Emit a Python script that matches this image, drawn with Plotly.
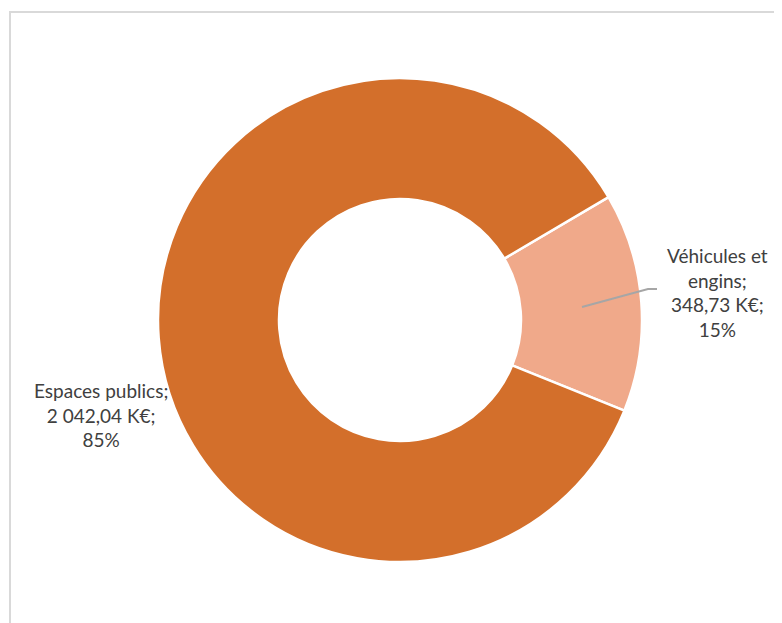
import plotly.graph_objects as go

categories = ["Véhicules et engins", "Espaces publics"]
values = [348.73, 2042.04]
value_labels = ["348,73 K€", "2 042,04 K€"]
pct_labels = ["15%", "85%"]
colors = ["#F0A98A", "#D36F2B"]

OFF = 8  # page body margin
W, H = 782 - OFF, 623 - OFF

def px(x):
    return (x - OFF) / W

def py(y):
    return 1 - (y - OFF) / H

cx, cy, R = 400, 320, 242

fig = go.Figure(go.Pie(
    labels=categories,
    values=values,
    hole=0.5,
    sort=False,
    direction="clockwise",
    rotation=59.5,
    marker=dict(colors=colors, line=dict(color="white", width=2.5)),
    textinfo="none",
    hoverinfo="label+value+percent",
    showlegend=False,
    domain=dict(x=[px(cx - R), px(cx + R)], y=[py(cy + R), py(cy - R)]),
))

font = dict(family="Lato, Carlito, sans-serif", size=19, color="#404040")

labels_text = [
    "Véhicules et<br>engins;<br>" + value_labels[0] + ";<br>" + pct_labels[0],
    "Espaces publics;<br>" + value_labels[1] + ";<br>" + pct_labels[1],
]
label_pos = [(717, 292), (101, 415)]

for txt, (lx, ly) in zip(labels_text, label_pos):
    fig.add_annotation(
        x=px(lx), y=py(ly), xref="paper", yref="paper",
        text=txt, showarrow=False, align="center",
        xanchor="center", yanchor="middle", font=font,
    )

# leader line for the small slice
fig.add_shape(
    type="path",
    path=f"M {px(582)} {py(307)} L {px(648)} {py(289)} L {px(657)} {py(289)}",
    xref="paper", yref="paper",
    line=dict(color="#A6A6A6", width=2),
)

# chart area border
fig.add_shape(
    type="rect", xref="paper", yref="paper",
    x0=px(10), y0=-0.02, x1=1.02, y1=py(12),
    line=dict(color="#D9D9D9", width=2),
    fillcolor="rgba(0,0,0,0)", layer="below",
)

fig.update_layout(
    width=W, height=H,
    margin=dict(l=0, r=0, t=0, b=0),
    paper_bgcolor="white",
    plot_bgcolor="white",
)

fig.write_html("out.html")
